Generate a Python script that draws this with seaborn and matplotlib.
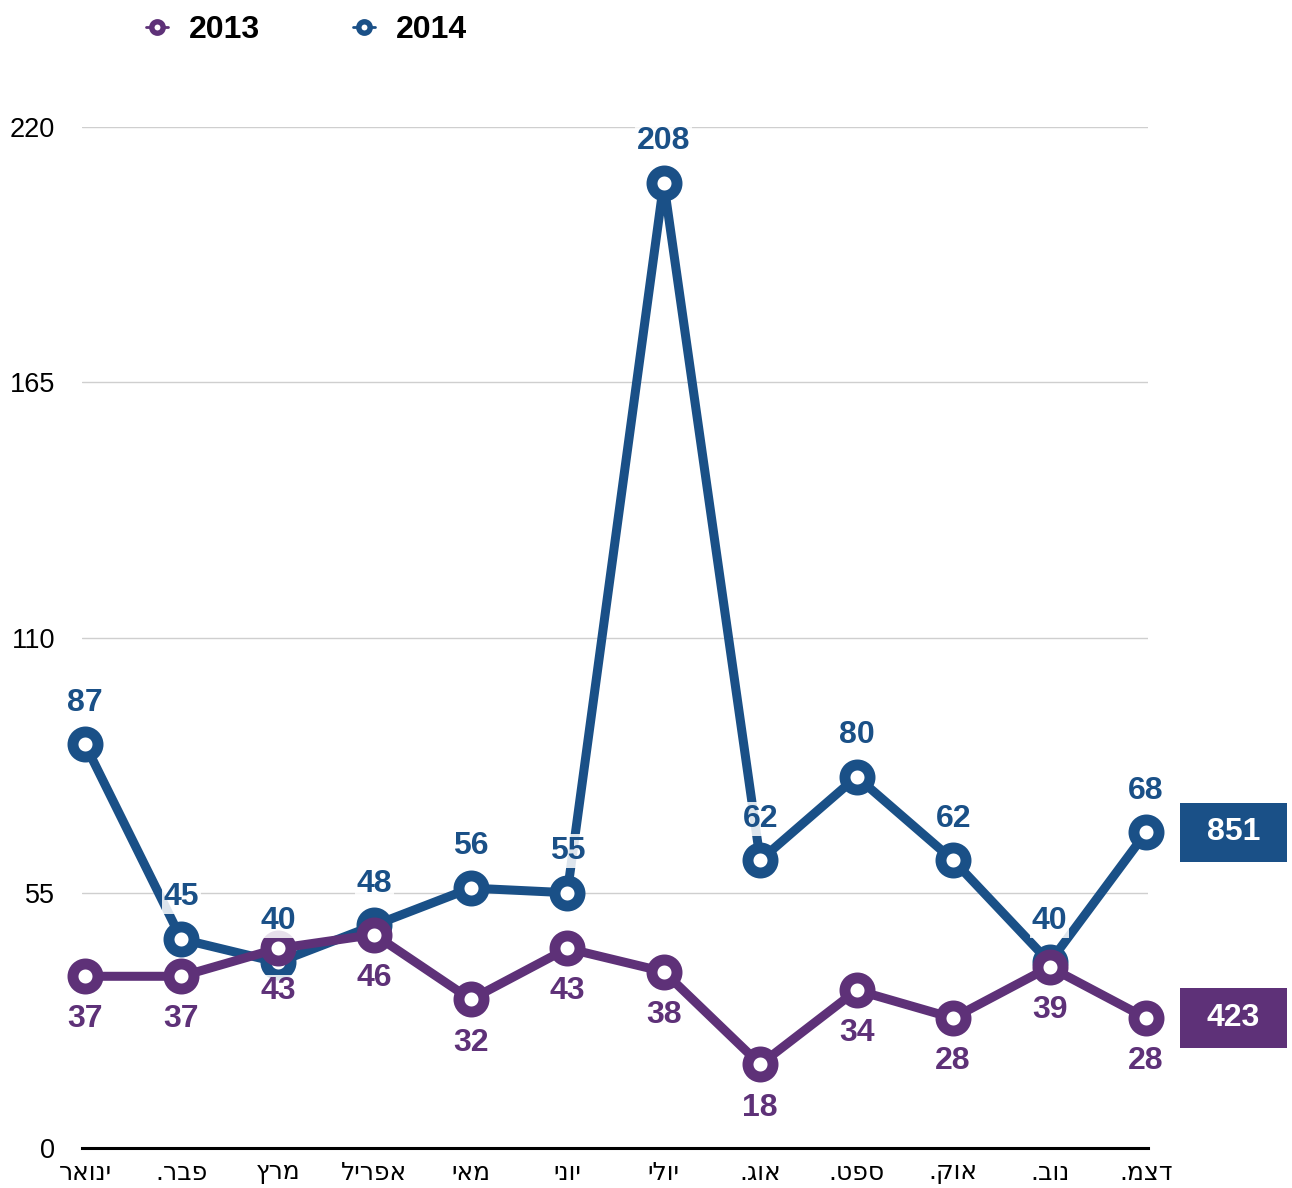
import numpy as np
import pandas as pd
import matplotlib.pyplot as plt
import seaborn as sns
from matplotlib.lines import Line2D
from matplotlib.patches import Rectangle

# data
months = ['ינואר', 'פבר.', 'מרץ', 'אפריל', 'מאי', 'יוני',
          'יולי', 'אוג.', 'ספט.', 'אוק.', 'נוב.', 'דצמ.']
values_2013 = [37, 37, 43, 46, 32, 43, 38, 18, 34, 28, 39, 28]
values_2014 = [87, 45, 40, 48, 56, 55, 208, 62, 80, 62, 40, 68]
y_ticks = [0, 55, 110, 165, 220]

BLUE = '#1a5087'
PURPLE = '#5e3178'


def visual_hebrew(s):
    # matplotlib has no bidi support, so lay the characters out right-to-left by hand
    return s[::-1]


sns.set_style('white')
plt.rcParams['font.family'] = ['Liberation Sans', 'DejaVu Sans']
plt.rcParams['text.color'] = 'black'
plt.rcParams['xtick.color'] = 'black'
plt.rcParams['ytick.color'] = 'black'

df = pd.DataFrame({'month': np.arange(len(months)),
                   '2013': values_2013,
                   '2014': values_2014})

fig = plt.figure(figsize=(12.92, 11.88), dpi=100)
ax = fig.add_axes([82 / 1292, 40 / 1188, 1066 / 1292, 1021 / 1188])

# 2014 drawn first so the 2013 line sits on top
series = [('2014', BLUE, 30), ('2013', PURPLE, -31)]
for year, color, offset in series:
    sns.lineplot(data=df, x='month', y=year, ax=ax, color=color,
                 linewidth=6.5, marker='o', markersize=18,
                 markeredgewidth=7.9, markerfacecolor='white',
                 markeredgecolor=color, zorder=3, clip_on=False)

# value labels
for year, color, offset in series:
    for x, v in zip(df['month'], df[year]):
        ax.annotate(str(v), (x, v), xytext=(0, offset), textcoords='offset points',
                    ha='center', va='center', fontsize=23, fontweight='bold',
                    color=color, zorder=6,
                    bbox=dict(boxstyle='square,pad=0.06', fc='white', ec='none', alpha=0.85))

# yearly totals next to the last point
for year, color, offset in series:
    last = df[year].iloc[-1]
    ax.add_patch(Rectangle((11.35, last - 6.4), 1.11, 12.8, facecolor=color,
                           edgecolor='none', clip_on=False, zorder=4))
    ax.text(11.905, last, str(df[year].sum()), ha='center', va='center',
            fontsize=23, fontweight='bold', color='white', zorder=5)

ax.set_xlim(-0.031, 11.02)
ax.set_ylim(0, 220)
ax.set_yticks(y_ticks)
ax.set_xticks(df['month'])
ax.set_xticklabels([visual_hebrew(m) for m in months], fontsize=18,
                   family=['DejaVu Sans'])
ax.tick_params(axis='y', length=0, pad=19.5, labelsize=19.5)
ax.tick_params(axis='x', length=0, pad=9)
ax.set_xlabel('')
ax.set_ylabel('')

ax.grid(axis='y', color='#cfcfcf', linewidth=1)
ax.grid(axis='x', visible=False)
ax.set_axisbelow(True)
for side in ['top', 'right', 'left']:
    ax.spines[side].set_visible(False)
ax.spines['bottom'].set_color('black')
ax.spines['bottom'].set_linewidth(2.2)
ax.spines['bottom'].set_zorder(2)

handles = [Line2D([], [], color=c, lw=2, marker='o', markersize=8.2,
                  markeredgewidth=3.9, markerfacecolor='white')
           for c in [PURPLE, BLUE]]
fig.legend(handles, ['2013', '2014'], loc='center left',
           bbox_to_anchor=(146 / 1292, 1 - 30 / 1188), ncol=2, frameon=False,
           prop={'size': 23, 'weight': 'bold'}, handlelength=0.7,
           handletextpad=0.65, columnspacing=2.9, borderpad=0, borderaxespad=0)

fig.savefig('out.png', dpi=100)
